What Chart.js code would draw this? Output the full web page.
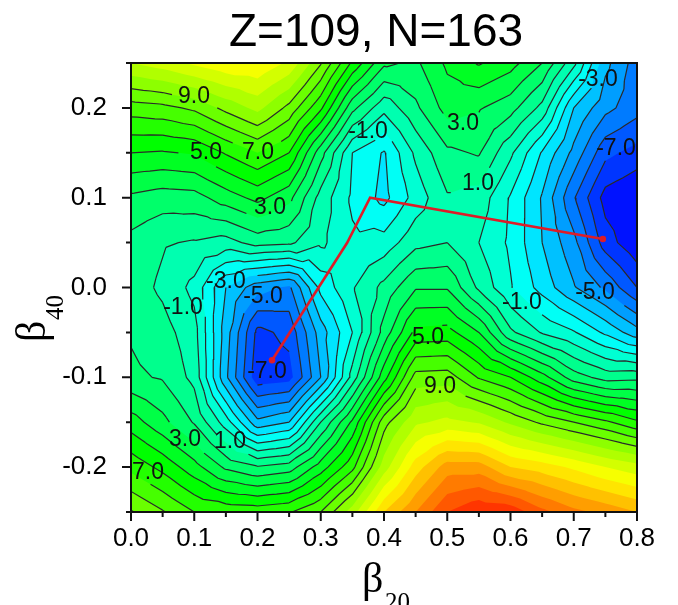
<!DOCTYPE html>
<html>
<head>
<meta charset="utf-8">
<title>Z=109, N=163</title>
<script src="https://cdn.jsdelivr.net/npm/chart.js@4"></script>
<style>
html, body { margin: 0; padding: 0; background: #fff; }
canvas { display: block; }
</style>
</head>
<body>
<canvas id="myChart" width="678" height="605"></canvas>
<script>
'use strict'

var betaTwenty = [0, 0.05, 0.1, 0.15, 0.2, 0.25, 0.3, 0.35, 0.4, 0.45, 0.5, 0.55, 0.6, 0.65, 0.7, 0.75, 0.8];
var betaForty = [0.25, 0.2, 0.15, 0.1, 0.05, 0, -0.05, -0.1, -0.15, -0.2, -0.25];

// energy, one row per beta40
var rowP25 = [11, 11.5, 12.2, 12.8, 12.9, 11.8, 9.1, 5.8, 3.2, 2.8, 4.2, 5.1, 4.4, 3, 0.3, -3.7, -5.5];
var rowP20 = [7.5, 7.7, 8.2, 9.3, 10.3, 8.7, 6.2, 2.3, 0.3, 1.8, 3.4, 3.1, 2.4, 0.7, -3, -4.7, -5.6];
var rowP15 = [5, 4.9, 5.1, 6.1, 7, 6, 2.4, -1, -2.1, 0.2, 1.8, 2.1, 0.2, -2.1, -4.3, -6.7, -7.4];
var rowP10 = [2.8, 2.5, 2.6, 3.5, 4.3, 3.3, 0.6, -1.2, -2.3, -0.6, 0.9, 0.6, -1.1, -3.1, -5.9, -8.4, -9];
var rowP05 = [1.7, 1.1, 0.9, 0.6, 1.4, 1.2, 0.2, -0.8, -0.6, 0.7, 1, 0, -1.2, -3, -4.7, -7.5, -8.8];
var rowZero = [1.5, 0.8, -0.3, -3, -4.6, -5.2, -1.7, -0.1, 1.3, 2.9, 2.9, 0.8, -0.9, -2.4, -3.9, -5.2, -7];
var rowM05 = [1.9, 1.4, 0.4, -3.5, -7.3, -6.7, -3.5, -1, 2.4, 5.3, 5.4, 4, 1.2, -0.1, -0.9, -2.2, -3.6];
var rowM10 = [2.2, 1.9, 0.7, -3.8, -7.7, -7.4, -4, 0.4, 4.6, 8.4, 8.5, 6.9, 6, 4.4, 2.5, 1.6, 1.7];
var rowM15 = [4.5, 3.3, 1.9, -0.5, -3.7, -3, 1, 4.2, 8.6, 10.8, 11.3, 10.9, 9.8, 8.8, 8, 7.2, 6.2];
var rowM20 = [6.7, 5.7, 4.4, 2.8, 2.1, 2.5, 4.5, 6.7, 10.5, 13.5, 15.5, 15.5, 14, 13.5, 12.8, 12, 11.4];
var rowM25 = [9.1, 8.1, 7, 6.7, 6.6, 6.9, 8, 10.5, 14, 16, 18, 18.9, 18.7, 17.3, 16.3, 15.7, 15];
var energy = [rowP25, rowP20, rowP15, rowP10, rowP05, rowZero, rowM05, rowM10, rowM15, rowM20, rowM25];

var lineLevels = [-8, -7, -6, -5, -4, -3, -2, -1, 0, 1, 2, 3, 4, 5, 6, 7, 8, 9];
var fillLevels = [-9, -8, -7, -6, -5, -4, -3, -2, -1, 0, 1, 2, 3, 4, 5, 6, 7, 8, 9, 10, 11, 12, 13, 14, 15, 16, 17, 18, 19];

var pathBeta20 = [0.746, 0.378, 0.3415, 0.223];
var pathBeta40 = [0.054, 0.1, 0.0495, -0.081];

var labelText = ['9.0', '5.0', '7.0', '3.0', '-1.0', '3.0', '1.0', '-3.0', '-7.0', '-3.0', '-5.0', '-1.0', '-1.0', '-5.0', '-7.0', '5.0', '9.0', '3.0', '1.0', '7.0'];
var labelBeta20 = [0.0996, 0.1186, 0.2008, 0.2198, 0.3747, 0.525, 0.5486, 0.7383, 0.7668, 0.15, 0.2087, 0.0822, 0.618, 0.7336, 0.215, 0.4696, 0.4885, 0.0854, 0.1565, 0.0269];
var labelBeta40 = [0.213, 0.1498, 0.1498, 0.0885, 0.1732, 0.182, 0.1153, 0.2311, 0.1542, 0.006, -0.0106, -0.0228, -0.0173, -0.0061, -0.094, -0.0562, -0.1108, -0.1698, -0.172, -0.2065];

var sans = "'Liberation Sans', Arial, sans-serif";
var serif = "'Liberation Serif', 'Times New Roman', serif";

// blue - cyan - green - yellow - red over the energy range
function rampColor(z) {
    var t = Math.max(0, Math.min(1, (z + 9) / 29)) * 4;
    var r = 0, g = 0, b = 0;
    if (t < 1) { g = t; b = 1; }
    else if (t < 2) { g = 1; b = 2 - t; }
    else if (t < 3) { r = t - 2; g = 1; }
    else { r = 1; g = 4 - t; }
    return 'rgb(' + Math.round(r * 255) + ',' + Math.round(g * 255) + ',' + Math.round(b * 255) + ')';
}

// every grid cell is split in 4 triangles around its mean
function buildTriangles() {
    var list = [];
    for (var j = 0; j < betaForty.length - 1; j++) {
        for (var i = 0; i < betaTwenty.length - 1; i++) {
            var a = { x: betaTwenty[i], y: betaForty[j], z: energy[j][i] };
            var b = { x: betaTwenty[i + 1], y: betaForty[j], z: energy[j][i + 1] };
            var c = { x: betaTwenty[i + 1], y: betaForty[j + 1], z: energy[j + 1][i + 1] };
            var d = { x: betaTwenty[i], y: betaForty[j + 1], z: energy[j + 1][i] };
            var m = { x: (a.x + b.x) / 2, y: (a.y + d.y) / 2, z: (a.z + b.z + c.z + d.z) / 4 };
            list.push([a, b, m], [b, c, m], [c, d, m], [d, a, m]);
        }
    }
    return list;
}
var triangles = buildTriangles();

function crossPoint(p, q, level) {
    var k = (level - p.z) / (q.z - p.z);
    return { x: p.x + (q.x - p.x) * k, y: p.y + (q.y - p.y) * k };
}

// part of a triangle at or above level
function clipAbove(tri, level) {
    var out = [];
    for (var i = 0; i < 3; i++) {
        var p = tri[i], q = tri[(i + 1) % 3];
        if (p.z >= level) out.push(p);
        if ((p.z >= level) !== (q.z >= level)) out.push(crossPoint(p, q, level));
    }
    return out;
}

function nearOwnLabel(x, y, level) {
    for (var i = 0; i < labelText.length; i++) {
        if (parseFloat(labelText[i]) !== level) continue;
        var halfW = (labelText[i].length * 6.5 + 2) / 632.5;
        if (Math.abs(x - labelBeta20[i]) < halfW && Math.abs(y - labelBeta40[i]) < 12 / 898) return true;
    }
    return false;
}

function contourPoints(level) {
    var pts = [];
    triangles.forEach(function (tri) {
        var found = [];
        for (var i = 0; i < 3; i++) {
            var p = tri[i], q = tri[(i + 1) % 3];
            if ((p.z >= level) !== (q.z >= level)) found.push(crossPoint(p, q, level));
        }
        if (found.length === 2) {
            if (nearOwnLabel((found[0].x + found[1].x) / 2, (found[0].y + found[1].y) / 2, level)) return;
            pts.push(found[0], found[1], { x: NaN, y: NaN });
        }
    });
    return pts;
}

var contourFill = {
    id: 'contourFill',
    afterLayout: function (chart) {
        // title sits off centre in the original
        chart.titleBlock.left = 115;
    },
    beforeDatasetsDraw: function (chart) {
        var ctx = chart.ctx, area = chart.chartArea;
        var sx = chart.scales.x, sy = chart.scales.y;
        ctx.save();
        ctx.beginPath();
        ctx.rect(area.left, area.top, area.right - area.left, area.bottom - area.top);
        ctx.clip();
        fillLevels.forEach(function (level) {
            ctx.beginPath();
            triangles.forEach(function (tri) {
                var poly = clipAbove(tri, level);
                if (poly.length < 3) return;
                poly.forEach(function (pt, n) {
                    var px = sx.getPixelForValue(pt.x), py = sy.getPixelForValue(pt.y);
                    if (n === 0) ctx.moveTo(px, py); else ctx.lineTo(px, py);
                });
                ctx.closePath();
            });
            ctx.fillStyle = rampColor(level + 0.5);
            ctx.fill();
        });
        ctx.restore();
    }
};

var frameAndText = {
    id: 'frameAndText',
    afterDatasetsDraw: function (chart) {
        var ctx = chart.ctx, area = chart.chartArea;
        var sx = chart.scales.x, sy = chart.scales.y;
        ctx.save();

        // contour labels
        ctx.fillStyle = '#111';
        ctx.font = '23px ' + sans;
        ctx.textAlign = 'center';
        ctx.textBaseline = 'middle';
        labelText.forEach(function (txt, i) {
            ctx.fillText(txt, sx.getPixelForValue(labelBeta20[i]), sy.getPixelForValue(labelBeta40[i]));
        });

        // frame and ticks
        ctx.strokeStyle = '#111';
        ctx.lineWidth = 2;
        ctx.strokeRect(area.left, area.top, area.right - area.left, area.bottom - area.top);
        ctx.beginPath();
        sx.ticks.forEach(function (t) {
            var px = sx.getPixelForValue(t.value);
            ctx.moveTo(px, area.bottom);
            ctx.lineTo(px, area.bottom + (t.label ? 9 : 5));
        });
        sy.ticks.forEach(function (t) {
            var py = sy.getPixelForValue(t.value);
            ctx.moveTo(area.left, py);
            ctx.lineTo(area.left - (t.label ? 9 : 5), py);
        });
        ctx.stroke();

        // axis names with subscripts
        ctx.fillStyle = '#000';
        ctx.textAlign = 'left';
        ctx.textBaseline = 'alphabetic';
        ctx.font = '42px ' + serif;
        ctx.fillText('\u03b2', 362, 592);
        ctx.font = '25px ' + serif;
        ctx.fillText('20', 385, 610);

        ctx.translate(45, 342);
        ctx.rotate(-Math.PI / 2);
        ctx.font = '42px ' + serif;
        ctx.fillText('\u03b2', 0, 0);
        ctx.font = '25px ' + serif;
        ctx.fillText('40', 22, 18);
        ctx.restore();
    }
};

var datasets = [{
    label: 'path',
    data: pathBeta20.map(function (x, i) { return { x: x, y: pathBeta40[i] }; }),
    showLine: true,
    borderColor: 'rgb(222,28,40)',
    backgroundColor: 'rgb(222,28,40)',
    borderWidth: 2.6,
    pointRadius: [2, 0, 0, 2]
}];
lineLevels.forEach(function (level) {
    datasets.push({
        label: 'E=' + level,
        data: contourPoints(level),
        showLine: true,
        spanGaps: false,
        borderColor: '#2a2a2a',
        borderWidth: 1.2,
        pointRadius: 0
    });
});

var ctx = document.getElementById('myChart').getContext('2d');
var myChart = new Chart(ctx, {
    type: 'scatter',
    data: { datasets: datasets },
    plugins: [contourFill, frameAndText],
    options: {
        responsive: false,
        animation: false,
        layout: { autoPadding: false, padding: { left: 0, right: 41, top: 0, bottom: 0 } },
        plugins: {
            legend: { display: false },
            tooltip: { enabled: false },
            title: {
                display: true,
                text: 'Z=109, N=163',
                color: '#000',
                font: { family: sans, size: 46, weight: 'normal', lineHeight: 1.2 },
                padding: { top: 6, bottom: 1.8 }
            }
        },
        scales: {
            x: {
                type: 'linear',
                min: 0,
                max: 0.8,
                afterFit: function (s) { s.height = 93; },
                border: { display: false },
                grid: { display: false },
                ticks: {
                    stepSize: 0.05,
                    autoSkip: false,
                    maxRotation: 0,
                    padding: 3,
                    color: '#000',
                    font: { family: sans, size: 26 },
                    callback: function (v) {
                        return Math.round(v * 100) % 10 === 0 ? (Math.round(v * 10) / 10).toFixed(1) : '';
                    }
                }
            },
            y: {
                type: 'linear',
                min: -0.25,
                max: 0.25,
                afterFit: function (s) { s.width = 131; },
                border: { display: false },
                grid: { display: false },
                ticks: {
                    stepSize: 0.05,
                    autoSkip: false,
                    padding: 16,
                    color: '#000',
                    font: { family: sans, size: 26 },
                    callback: function (v) {
                        var n = Math.round(v * 100);
                        if (n % 10 !== 0) return '';
                        return n === 0 ? '0.0' : (n / 100).toFixed(1);
                    }
                }
            }
        }
    }
});
</script>
</body>
</html>
